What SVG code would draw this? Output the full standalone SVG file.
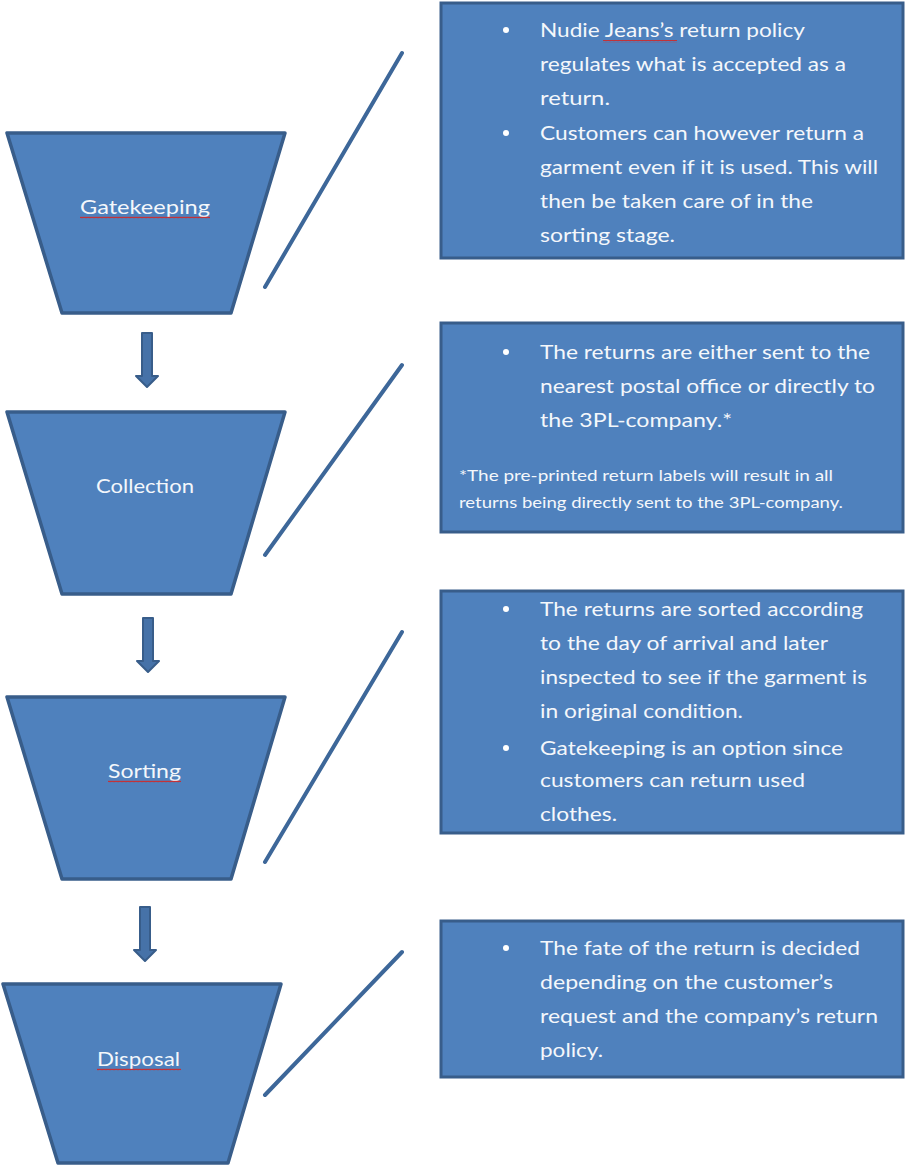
<svg xmlns="http://www.w3.org/2000/svg" width="906" height="1166" viewBox="0 0 906 1166">
<style>
.shape{fill:#4F81BD;stroke:#385D8A;stroke-width:3.5;stroke-linejoin:round}
.box{fill:#4F81BD;stroke:#385D8A;stroke-width:3}
.conn{stroke:#3D6799;stroke-width:4;stroke-linecap:round;fill:none}
.arrow{fill:#4672A8;stroke:#385D8A;stroke-width:2;stroke-linejoin:round}
.t{font-family:Lato,"Liberation Sans",sans-serif;font-size:20px;fill:#F4F7FB}
.lbl{font-family:Lato,"Liberation Sans",sans-serif;font-size:19px;fill:#F4F7FB;text-anchor:start}
.fn{font-family:Lato,"Liberation Sans",sans-serif;font-size:15px;fill:#F4F7FB}
.dot{fill:#FFFFFF}
</style>
<defs>
<path id="arr" d="M-5,0 H5 V43 H11 L0,54 L-11,43 H-5 Z"/>
<pattern id="wave" width="4" height="3" patternUnits="userSpaceOnUse">
<path d="M0,2.2 L1,0.8 L2,2.2 L3,0.8 L4,2.2" fill="none" stroke="#D02828" stroke-width="0.9"/>
</pattern>
</defs>

<g id="connectors">
<line class="conn" x1="402" y1="53" x2="265" y2="287"/>
<line class="conn" x1="402" y1="365" x2="265" y2="555"/>
<line class="conn" x1="402" y1="632" x2="265" y2="862"/>
<line class="conn" x1="402" y1="952" x2="265" y2="1095"/>
<use href="#arr" class="arrow" transform="translate(147,333)"/>
<use href="#arr" class="arrow" transform="translate(148,618)"/>
<use href="#arr" class="arrow" transform="translate(145,907)"/>
</g>

<g id="gatekeeping">
<polygon class="shape" points="7,133 285,133 231,313 62,313"/>
<text class="lbl" x="80" y="214" textLength="130" lengthAdjust="spacingAndGlyphs">Gatekeeping</text>
<rect x="80" y="216" width="130" height="3" fill="url(#wave)"/>
</g>

<g id="collection">
<polygon class="shape" points="7,412 285,412 231,594 62,594"/>
<text class="lbl" x="96" y="493" textLength="98" lengthAdjust="spacingAndGlyphs">Collection</text>
</g>

<g id="sorting">
<polygon class="shape" points="7,697 285,697 231,879 62,879"/>
<text class="lbl" x="108" y="778" textLength="73" lengthAdjust="spacingAndGlyphs">Sorting</text>
<rect x="108" y="780" width="73" height="3" fill="url(#wave)"/>
</g>

<g id="disposal">
<polygon class="shape" points="3,984 281,984 228,1163 58,1163"/>
<text class="lbl" x="97" y="1066" textLength="83" lengthAdjust="spacingAndGlyphs">Disposal</text>
<rect x="97" y="1068" width="84" height="3" fill="url(#wave)"/>
</g>

<g id="box-gatekeeping">
<rect class="box" x="441" y="3" width="462" height="255"/>
<circle class="dot" cx="506" cy="30" r="3"/>
<circle class="dot" cx="506" cy="133" r="3"/>
<text class="t" x="540" y="37" textLength="265" lengthAdjust="spacingAndGlyphs">Nudie Jeans’s return policy</text>
<rect x="603" y="40" width="74" height="3" fill="url(#wave)"/>
<text class="t" x="540" y="71" textLength="306" lengthAdjust="spacingAndGlyphs">regulates what is accepted as a</text>
<text class="t" x="540" y="105" textLength="70" lengthAdjust="spacingAndGlyphs">return.</text>
<text class="t" x="540" y="140" textLength="324" lengthAdjust="spacingAndGlyphs">Customers can however return a</text>
<text class="t" x="540" y="174" textLength="338" lengthAdjust="spacingAndGlyphs">garment even if it is used. This will</text>
<text class="t" x="540" y="208" textLength="273" lengthAdjust="spacingAndGlyphs">then be taken care of in the</text>
<text class="t" x="540" y="242" textLength="135" lengthAdjust="spacingAndGlyphs">sorting stage.</text>
</g>

<g id="box-collection">
<rect class="box" x="441" y="323" width="462" height="209"/>
<circle class="dot" cx="506" cy="352" r="3"/>
<text class="t" x="540" y="359" textLength="330" lengthAdjust="spacingAndGlyphs">The returns are either sent to the</text>
<text class="t" x="540" y="393" textLength="335" lengthAdjust="spacingAndGlyphs">nearest postal office or directly to</text>
<text class="t" x="540" y="427" textLength="192" lengthAdjust="spacingAndGlyphs">the 3PL-company.*</text>
<text class="fn" x="459" y="481" textLength="374" lengthAdjust="spacingAndGlyphs">*The pre-printed return labels will result in all</text>
<text class="fn" x="459" y="508" textLength="384" lengthAdjust="spacingAndGlyphs">returns being directly sent to the 3PL-company.</text>
</g>

<g id="box-sorting">
<rect class="box" x="441" y="591" width="462" height="242"/>
<circle class="dot" cx="506" cy="609" r="3"/>
<circle class="dot" cx="506" cy="748" r="3"/>
<text class="t" x="540" y="616" textLength="323" lengthAdjust="spacingAndGlyphs">The returns are sorted according</text>
<text class="t" x="540" y="650" textLength="288" lengthAdjust="spacingAndGlyphs">to the day of arrival and later</text>
<text class="t" x="540" y="684" textLength="327" lengthAdjust="spacingAndGlyphs">inspected to see if the garment is</text>
<text class="t" x="540" y="718" textLength="203" lengthAdjust="spacingAndGlyphs">in original condition.</text>
<text class="t" x="540" y="755" textLength="303" lengthAdjust="spacingAndGlyphs">Gatekeeping is an option since</text>
<text class="t" x="540" y="787" textLength="265" lengthAdjust="spacingAndGlyphs">customers can return used</text>
<text class="t" x="540" y="821" textLength="77" lengthAdjust="spacingAndGlyphs">clothes.</text>
</g>

<g id="box-disposal">
<rect class="box" x="441" y="921" width="462" height="156"/>
<circle class="dot" cx="506" cy="948" r="3"/>
<text class="t" x="540" y="955" textLength="320" lengthAdjust="spacingAndGlyphs">The fate of the return is decided</text>
<text class="t" x="540" y="989" textLength="293" lengthAdjust="spacingAndGlyphs">depending on the customer’s</text>
<text class="t" x="540" y="1023" textLength="338" lengthAdjust="spacingAndGlyphs">request and the company’s return</text>
<text class="t" x="540" y="1057" textLength="63" lengthAdjust="spacingAndGlyphs">policy.</text>
</g>
</svg>
